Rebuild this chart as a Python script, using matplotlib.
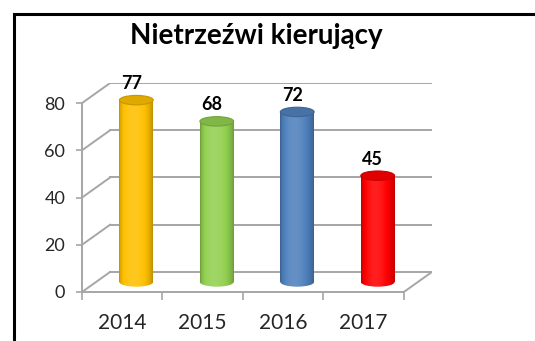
import numpy as np
import matplotlib.pyplot as plt
from matplotlib.patches import Ellipse, Rectangle
from matplotlib.colors import to_rgb

years = ['2014', '2015', '2016', '2017']
counts = [77, 68, 72, 45]
bar_colors = ['#FFC000', '#92D050', '#4F81BD', '#FF0000']
yticks = [0, 20, 40, 60, 80]
title = 'Nietrzeźwi kierujący'

plt.rcParams['font.family'] = ['Lato', 'DejaVu Sans']

# depth of the fake 3d box, in data units
dx, dy = 0.35, 8.5
bar_w = 0.42
cap_h = 4.0
grid_c = '#A6A6A6'


def shade(rgb, f):
    rgb = np.asarray(rgb)
    if f < 1:
        return rgb * f
    return rgb + (1 - rgb) * (f - 1)


def cylinder_gradient(color, n=64):
    base = to_rgb(color)
    t = np.linspace(0, 1, n)
    f = 0.74 + 0.38 * np.sin(np.pi * t ** 0.8) ** 0.7
    return np.array([[shade(base, k) for k in f]])


fig = plt.figure(figsize=(5.35, 3.41), dpi=100)
fig.add_artist(Rectangle((14 / 535, -0.05), 1.0, 1.01, transform=fig.transFigure,
                         fill=False, edgecolor='black', linewidth=2.2))

ax = fig.add_axes([82 / 535, 49 / 341, 350 / 535, 209 / 341])
ax.set_xlim(-0.5, len(years) - 0.5 + dx)
ax.set_ylim(0, max(yticks) + dy)

# back wall gridlines and the left wall diagonals
x_left, x_right = -0.5, len(years) - 0.5
for v in yticks:
    ax.plot([x_left + dx, x_right + dx], [v + dy, v + dy], color=grid_c, lw=1.4, zorder=1)
    ax.plot([x_left, x_left + dx], [v, v + dy], color=grid_c, lw=1.4, zorder=1)
# floor edge on the right
ax.plot([x_right, x_right + dx], [0, dy], color=grid_c, lw=1.4, zorder=1)

# cylinders
for i, (v, c) in enumerate(zip(counts, bar_colors)):
    xc = i + dx / 2
    x0, x1 = xc - bar_w / 2, xc + bar_w / 2
    y0 = dy / 2
    grad = cylinder_gradient(c)

    body = Rectangle((x0, y0), bar_w, v, facecolor='none', edgecolor='none')
    ax.add_patch(body)
    im = ax.imshow(grad, extent=(x0, x1, y0, y0 + v), aspect='auto',
                   interpolation='bilinear', zorder=3)
    im.set_clip_path(body)

    foot = Ellipse((xc, y0), bar_w, cap_h, facecolor='none', edgecolor='none')
    ax.add_patch(foot)
    im2 = ax.imshow(grad, extent=(x0, x1, y0 - cap_h / 2, y0), aspect='auto',
                    interpolation='bilinear', zorder=3)
    im2.set_clip_path(foot)

    base = to_rgb(c)
    ax.add_patch(Ellipse((xc, y0 + v), bar_w, cap_h, facecolor=shade(base, 0.88),
                         edgecolor=shade(base, 0.78), lw=0.8, zorder=4))

    ax.text(xc - 0.06, v + dy / 2 + 7, str(v), ha='center', va='center',
            fontsize=13, fontweight='bold', color='black', zorder=5)

ax.set_xlim(-0.5, len(years) - 0.5 + dx)
ax.set_ylim(0, max(yticks) + dy)

# front axes
for s in ['top', 'right']:
    ax.spines[s].set_visible(False)
ax.spines['left'].set_bounds(0, max(yticks))
ax.spines['bottom'].set_bounds(x_left, x_right)
for s in ['left', 'bottom']:
    ax.spines[s].set_color(grid_c)
    ax.spines[s].set_linewidth(1.4)
    ax.spines[s].set_zorder(2)

ax.set_yticks(yticks)
ax.set_yticklabels([str(v) for v in yticks], fontsize=13, color='#262626')
ax.tick_params(axis='y', length=4, width=1.2, color=grid_c, pad=8)

ax.set_xticks(range(len(years)))
ax.set_xticklabels(years, fontsize=15, color='#262626')
ax.set_xticks(np.arange(-0.5, len(years)), minor=True)
ax.tick_params(axis='x', which='major', length=0, pad=15)
ax.tick_params(axis='x', which='minor', length=6, width=1.2, color=grid_c)

fig.text(256 / 535, 1 - 36 / 341, title, ha='center', va='center',
         fontsize=20, fontweight='bold', color='black')

fig.savefig('out.png', dpi=100)
